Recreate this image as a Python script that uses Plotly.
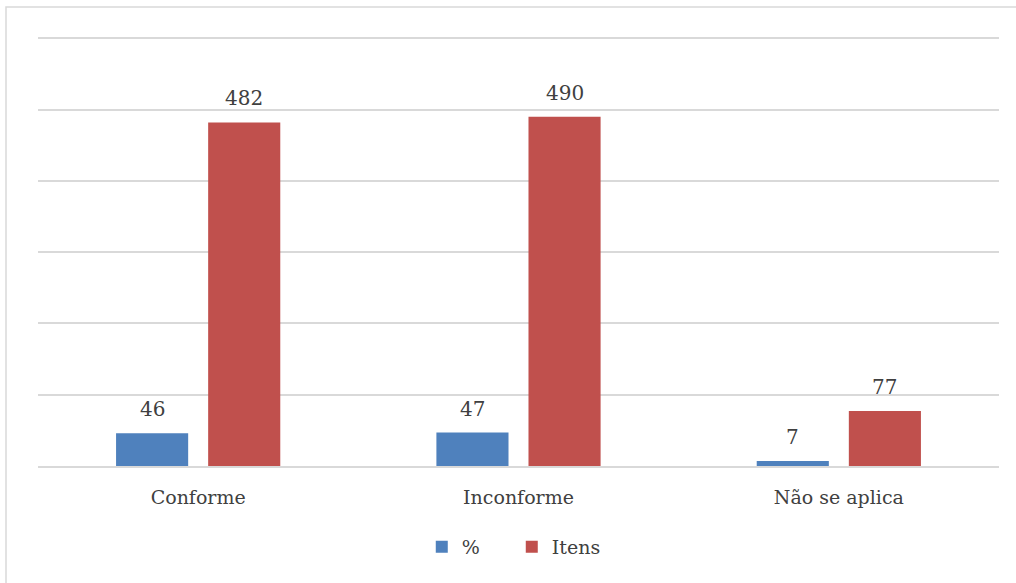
import plotly.graph_objects as go

categories = ["Conforme", "Inconforme", "Não se aplica"]
pct_values = [46, 47, 7]
itens_values = [482, 490, 77]
series_names = ["%", "Itens"]

FONT = "DejaVu Serif"
TXT = "#404040"
LABEL_SIZE = 20
SLOT_SHIFT = 46  # half of one bar slot in px, for placing value labels above grouped bars

fig = go.Figure()
fig.add_trace(go.Bar(x=categories, y=pct_values, name=series_names[0],
                     marker=dict(color="#4F81BD", line=dict(width=0))))
fig.add_trace(go.Bar(x=categories, y=itens_values, name=series_names[1],
                     marker=dict(color="#C0504D", line=dict(width=0))))

annotations = []
for vals, shift in ((pct_values, -SLOT_SHIFT), (itens_values, SLOT_SHIFT)):
    for c, v in zip(categories, vals):
        annotations.append(dict(x=c, y=v, xref="x", yref="y", text=str(v),
                                showarrow=False, xshift=shift, yshift=24,
                                yanchor="middle",
                                font=dict(family=FONT, size=LABEL_SIZE, color=TXT)))

PLOT_H = 432  # px for range 0..606 so that 600 sits at y=38
BASE_Y = 466  # pixel row of the x axis
fig.update_layout(
    width=1016, height=583,
    margin=dict(l=38, r=17, t=583 - 117 - PLOT_H, b=117),
    paper_bgcolor="white", plot_bgcolor="white",
    barmode="group", bargap=0.425, bargroupgap=0.217,
    font=dict(family=FONT, size=19, color=TXT),
    showlegend=True,
    legend=dict(orientation="h", x=0.493, xanchor="center", y=-81/PLOT_H, yanchor="middle",
                font=dict(family=FONT, size=19, color=TXT),
                entrywidth=45, entrywidthmode="pixels", itemwidth=30,
                traceorder="normal"),
    xaxis=dict(showgrid=False, showline=True, linecolor="#D9D9D9", linewidth=1.5,
               ticks="outside", ticklen=13, tickcolor="rgba(0,0,0,0)",
               tickfont=dict(family=FONT, size=19, color=TXT)),
    yaxis=dict(range=[0, 606], tickvals=[100, 200, 300, 400, 500, 600], showgrid=True,
               gridcolor="#D9D9D9", gridwidth=1.5, showticklabels=False,
               zeroline=False, showline=False),
    annotations=annotations,
    shapes=[dict(type="rect", xref="paper", yref="paper",
                 x0=-32/961, x1=1.1, y0=-0.5, y1=(BASE_Y - 7)/PLOT_H,
                 line=dict(color="#D9D9D9", width=1.5), fillcolor="rgba(0,0,0,0)",
                 layer="below")],
)

fig.write_html("out.html")
